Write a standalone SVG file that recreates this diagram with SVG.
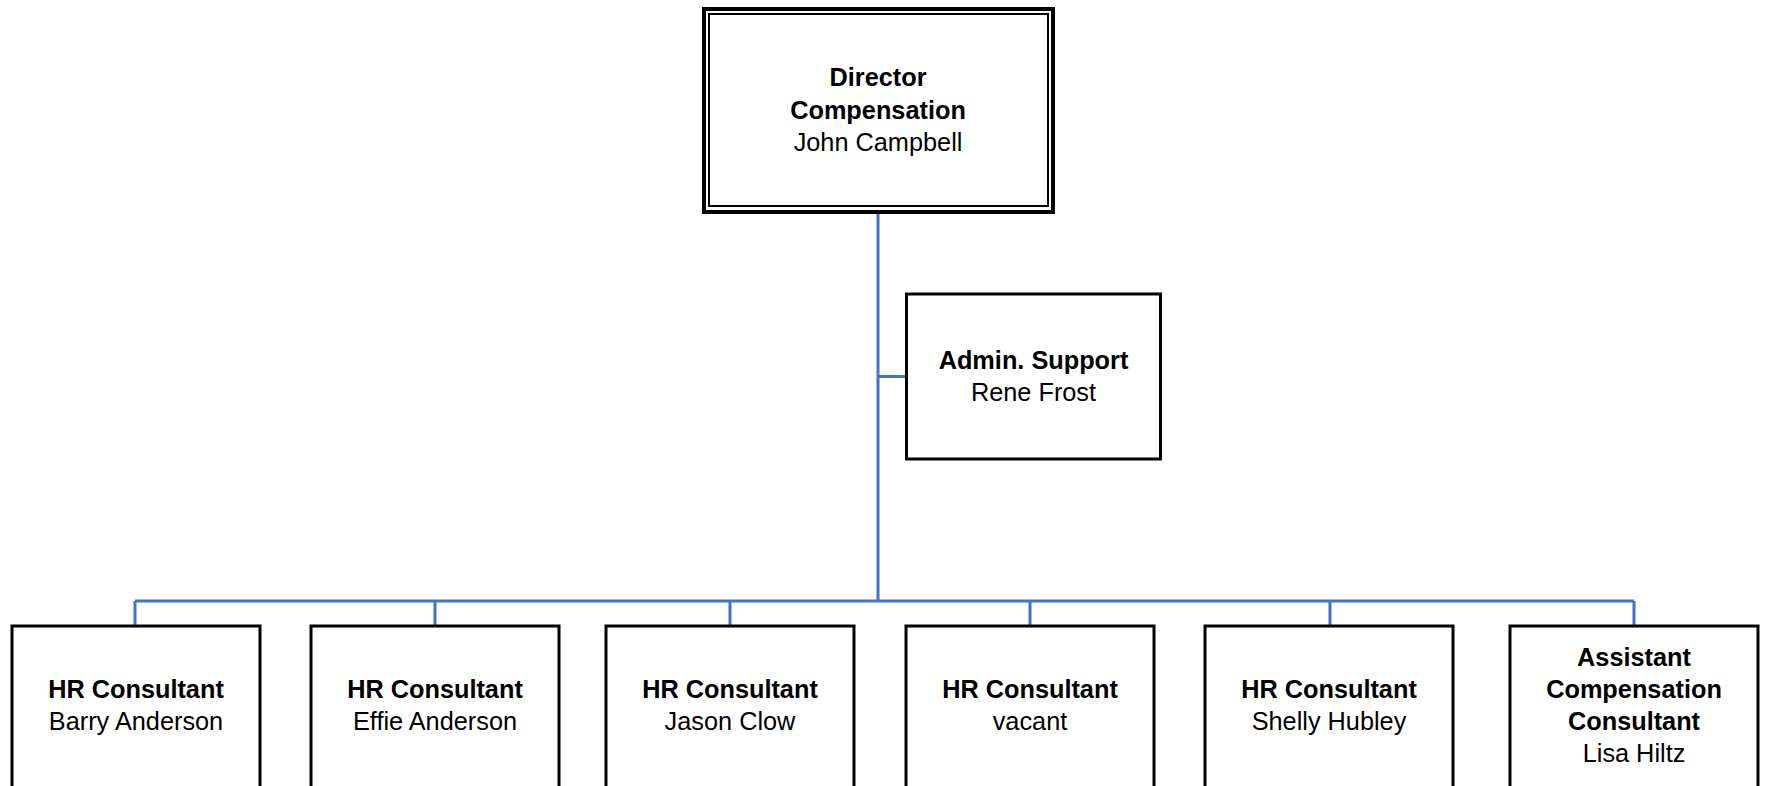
<svg xmlns="http://www.w3.org/2000/svg" width="1770" height="786" viewBox="0 0 1770 786">
<style>
.box{fill:#fff;stroke:#000;stroke-width:3}
.conn{fill:none;stroke:#4472C4;stroke-width:3}
text{font-family:"Liberation Sans",Arial,sans-serif;font-size:25.3px;fill:#000;text-anchor:middle}
.b{font-weight:bold}
</style>
<rect width="1770" height="786" fill="#fff"/>
<g id="connectors">
<path class="conn" d="M878,212 V601 M878,376.5 H906 M135,601 H1634 M135,601 V626 M435,601 V626 M730,601 V626 M1030,601 V626 M1330,601 V626 M1634,601 V626"/>
</g>
<g id="director">
<rect x="704" y="9" width="349" height="203" fill="#fff" stroke="#000" stroke-width="4"/>
<rect x="709" y="14" width="339" height="192" fill="none" stroke="#000" stroke-width="2"/>
<text class="b" x="878" y="86">Director</text>
<text class="b" x="878" y="118.5">Compensation</text>
<text x="878" y="151">John Campbell</text>
</g>
<g id="admin">
<rect class="box" x="906.5" y="294" width="254" height="165"/>
<text class="b" x="1033.5" y="368.5">Admin. Support</text>
<text x="1033.5" y="400.5">Rene Frost</text>
</g>
<g id="hr1">
<rect class="box" x="12" y="626" width="248" height="190"/>
<text class="b" x="136" y="698">HR Consultant</text>
<text x="136" y="730">Barry Anderson</text>
</g>
<g id="hr2">
<rect class="box" x="311" y="626" width="248" height="190"/>
<text class="b" x="435" y="698">HR Consultant</text>
<text x="435" y="730">Effie Anderson</text>
</g>
<g id="hr3">
<rect class="box" x="606" y="626" width="248" height="190"/>
<text class="b" x="730" y="698">HR Consultant</text>
<text x="730" y="730">Jason Clow</text>
</g>
<g id="hr4">
<rect class="box" x="906" y="626" width="248" height="190"/>
<text class="b" x="1030" y="698">HR Consultant</text>
<text x="1030" y="730">vacant</text>
</g>
<g id="hr5">
<rect class="box" x="1205" y="626" width="248" height="190"/>
<text class="b" x="1329" y="698">HR Consultant</text>
<text x="1329" y="730">Shelly Hubley</text>
</g>
<g id="acc">
<rect class="box" x="1510" y="626" width="248" height="190"/>
<text class="b" x="1634" y="666">Assistant</text>
<text class="b" x="1634" y="698">Compensation</text>
<text class="b" x="1634" y="730">Consultant</text>
<text x="1634" y="762">Lisa Hiltz</text>
</g>
</svg>
